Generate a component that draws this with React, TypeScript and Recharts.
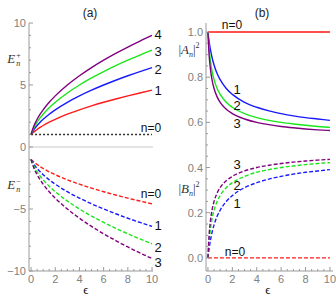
import React from "react";
import { LineChart, Line, XAxis, YAxis, ReferenceLine } from "recharts";

// epsilon sample points
const EPS = [0, 0.05, 0.1, 0.2, 0.35, 0.5, 0.75, 1, 1.5, 2, 3, 4, 5, 6, 7, 8, 9, 10];
const EPS_ENDS = [0, 10];

// panel (a) upper branch E_n^+
const E_PLUS_0 = [1, 1];
const E_PLUS_1 = [1, 1.049, 1.095, 1.183, 1.304, 1.414, 1.581, 1.732, 2, 2.236, 2.646, 3, 3.317, 3.606, 3.873, 4.123, 4.359, 4.583];
const E_PLUS_2 = [1, 1.095, 1.183, 1.342, 1.549, 1.732, 2, 2.236, 2.646, 3, 3.606, 4.123, 4.583, 5, 5.385, 5.745, 6.083, 6.403];
const E_PLUS_3 = [1, 1.14, 1.265, 1.483, 1.761, 2, 2.345, 2.646, 3.162, 3.606, 4.359, 5, 5.568, 6.083, 6.557, 7, 7.416, 7.81];
const E_PLUS_4 = [1, 1.183, 1.342, 1.612, 1.949, 2.236, 2.646, 3, 3.606, 4.123, 5, 5.745, 6.403, 7, 7.55, 8.062, 8.544, 9];

// panel (a) lower branch E_n^-
const E_MINUS_0 = [-1, -1.049, -1.095, -1.183, -1.304, -1.414, -1.581, -1.732, -2, -2.236, -2.646, -3, -3.317, -3.606, -3.873, -4.123, -4.359, -4.583];
const E_MINUS_1 = [-1, -1.095, -1.183, -1.342, -1.549, -1.732, -2, -2.236, -2.646, -3, -3.606, -4.123, -4.583, -5, -5.385, -5.745, -6.083, -6.403];
const E_MINUS_2 = [-1, -1.14, -1.265, -1.483, -1.761, -2, -2.345, -2.646, -3.162, -3.606, -4.359, -5, -5.568, -6.083, -6.557, -7, -7.416, -7.81];
const E_MINUS_3 = [-1, -1.183, -1.342, -1.612, -1.949, -2.236, -2.646, -3, -3.606, -4.123, -5, -5.745, -6.403, -7, -7.55, -8.062, -8.544, -9];

// panel (b) |A_n|^2
const A_0 = [1, 1];
const A_1 = [1, 0.977, 0.957, 0.923, 0.884, 0.854, 0.816, 0.789, 0.75, 0.724, 0.689, 0.667, 0.651, 0.639, 0.629, 0.621, 0.615, 0.609];
const A_2 = [1, 0.957, 0.923, 0.873, 0.823, 0.789, 0.75, 0.724, 0.689, 0.667, 0.639, 0.621, 0.609, 0.6, 0.593, 0.587, 0.582, 0.578];
const A_3 = [1, 0.939, 0.895, 0.837, 0.784, 0.75, 0.713, 0.689, 0.658, 0.639, 0.615, 0.6, 0.59, 0.582, 0.576, 0.571, 0.567, 0.564];

// panel (b) |B_n|^2
const B_0 = [0, 0];
const B_1 = [0, 0.023, 0.043, 0.077, 0.116, 0.146, 0.184, 0.211, 0.25, 0.276, 0.311, 0.333, 0.349, 0.361, 0.371, 0.379, 0.385, 0.391];
const B_2 = [0, 0.043, 0.077, 0.127, 0.177, 0.211, 0.25, 0.276, 0.311, 0.333, 0.361, 0.379, 0.391, 0.4, 0.407, 0.413, 0.418, 0.422];
const B_3 = [0, 0.061, 0.105, 0.163, 0.216, 0.25, 0.287, 0.311, 0.342, 0.361, 0.385, 0.4, 0.41, 0.418, 0.424, 0.429, 0.433, 0.436];

// tick labels
const X_MAJOR = [0, 2, 4, 6, 8, 10];
const YA_MAJOR = [-10, -5, 0, 5, 10];
const YB_MAJOR = [0, 0.2, 0.4, 0.6, 0.8, 1.0];

const RED = "#ff1a1a";
const BLUE = "#1a1aff";
const GREEN = "#19e619";
const PURPLE = "#800080";
const FRAME = "#9a9a9a";
const TICK_TXT = "#808080";

const rows = (xs: number[], ys: number[]) => ys.map((v, i) => ({ e: xs[i], v }));

const range = (a: number, b: number, step: number) => {
  const out: number[] = [];
  for (let v = a; v <= b + 1e-9; v += step) out.push(Math.round(v * 1000) / 1000);
  return out;
};

const X_TICKS = range(0, 10, 0.5);
const YA_TICKS = range(-10, 10, 1);
const YB_TICKS = range(0, 1, 0.05);

type Side = "left" | "right" | "top" | "bottom";

function makeTick(side: Side, majors: number[], fmt: ((v: number) => string) | null) {
  return (props: any) => {
    const { x, y, payload } = props;
    const v = payload.value;
    const major = majors.some((m) => Math.abs(m - v) < 1e-6);
    const len = major ? 4 : 2;
    let x2 = x;
    let y2 = y;
    if (side === "left") x2 = x + len;
    if (side === "right") x2 = x - len;
    if (side === "top") y2 = y + len;
    if (side === "bottom") y2 = y - len;
    return (
      <g>
        <line x1={x} y1={y} x2={x2} y2={y2} stroke={FRAME} strokeWidth={1} />
        {fmt && major && side === "left" && (
          <text x={x - 3} y={y} dy={4} textAnchor="end" fontSize={11} fill={TICK_TXT} fontFamily="Liberation Sans, Arial, sans-serif">
            {fmt(v)}
          </text>
        )}
        {fmt && major && side === "bottom" && (
          <text x={x} y={y + 12} textAnchor="middle" fontSize={11} fill={TICK_TXT} fontFamily="Liberation Sans, Arial, sans-serif">
            {fmt(v)}
          </text>
        )}
      </g>
    );
  };
}

const fmtA = (v: number) => (v < 0 ? "\u2212" + Math.abs(v) : String(v));
const fmtB = (v: number) => v.toFixed(1);

function Txt({ x, y, children, size = 12, color = "#111" }: { x: number; y: number; children: React.ReactNode; size?: number; color?: string }) {
  return (
    <div
      style={{
        position: "absolute",
        left: x,
        top: y,
        transform: "translate(-50%, -50%)",
        fontSize: size,
        lineHeight: 1,
        color,
        whiteSpace: "nowrap",
        fontFamily: "Liberation Sans, Arial, sans-serif",
      }}
    >
      {children}
    </div>
  );
}

const serif = { fontFamily: "Liberation Serif, Times New Roman, serif" };

function Script({ sup, sub }: { sup: string; sub?: string }) {
  return (
    <span style={{ display: "inline-flex", flexDirection: "column", fontSize: 8, lineHeight: "8px", verticalAlign: "middle", marginLeft: 1 }}>
      <span style={{ ...serif }}>{sup}</span>
      <span style={{ ...serif, fontStyle: "italic" }}>{sub ?? "\u00a0"}</span>
    </span>
  );
}

function ELabel({ sign }: { sign: string }) {
  return (
    <span style={{ ...serif, color: "#333", fontSize: 13 }}>
      <span style={{ fontStyle: "italic" }}>E</span>
      <Script sup={sign} sub="n" />
    </span>
  );
}

function AbsLabel({ letter }: { letter: string }) {
  return (
    <span style={{ ...serif, color: "#333", fontSize: 13 }}>
      |<span style={{ fontStyle: "italic" }}>{letter}</span>
      <sub style={{ fontSize: 8, fontStyle: "italic" }}>n</sub>|<sup style={{ fontSize: 8 }}>2</sup>
    </span>
  );
}

function FrameAxes({ xDomain, yDomain, yTicks, yMajors, fmt, leftWidth }: { xDomain: number[]; yDomain: number[]; yTicks: number[]; yMajors: number[]; fmt: (v: number) => string; leftWidth: number }) {
  return [
    <XAxis key="xb" xAxisId="b" type="number" dataKey="e" domain={xDomain} allowDataOverflow ticks={X_TICKS} interval={0} height={26} tickSize={0} tickMargin={0} stroke={FRAME} tick={makeTick("bottom", X_MAJOR, String)} tickLine={false} />,
    <XAxis key="xt" xAxisId="t" orientation="top" type="number" dataKey="e" domain={xDomain} allowDataOverflow ticks={X_TICKS} interval={0} height={0} tickSize={0} tickMargin={0} stroke={FRAME} tick={makeTick("top", X_MAJOR, null)} tickLine={false} />,
    <YAxis key="yl" yAxisId="l" type="number" domain={yDomain} allowDataOverflow ticks={yTicks} interval={0} width={leftWidth} tickSize={0} tickMargin={0} stroke={FRAME} tick={makeTick("left", yMajors, fmt)} tickLine={false} />,
    <YAxis key="yr" yAxisId="r" orientation="right" type="number" domain={yDomain} allowDataOverflow ticks={yTicks} interval={0} width={0} tickSize={0} tickMargin={0} stroke={FRAME} tick={makeTick("right", yMajors, null)} tickLine={false} />,
  ];
}

function series(xs: number[], ys: number[], color: string, dash?: string, width = 1.4) {
  return (
    <Line
      key={color + (dash ?? "") + ys[ys.length - 1]}
      xAxisId="b"
      yAxisId="l"
      data={rows(xs, ys)}
      dataKey="v"
      type="monotone"
      stroke={color}
      strokeWidth={width}
      strokeDasharray={dash}
      dot={false}
      activeDot={false}
      isAnimationActive={false}
    />
  );
}

export default function App() {
  const dash = "4 2";
  return (
    <div style={{ position: "absolute", left: 0, top: 0, width: 336, height: 297, background: "#fff", overflow: "hidden" }}>
      <div style={{ position: "absolute", left: 0, top: 0 }}>
        <LineChart width={170} height={297} margin={{ top: 23, right: 17, bottom: 0, left: 0 }}>
          {FrameAxes({ xDomain: [-0.17, 10.08], yDomain: [-10, 10], yTicks: YA_TICKS, yMajors: YA_MAJOR, fmt: fmtA, leftWidth: 29 })}
          <ReferenceLine xAxisId="b" yAxisId="l" y={0} stroke="#c8c8c8" strokeWidth={1} />
          {series(EPS_ENDS, E_PLUS_0, "#333", "2 2", 1.5)}
          {series(EPS, E_PLUS_1, RED)}
          {series(EPS, E_PLUS_2, BLUE)}
          {series(EPS, E_PLUS_3, GREEN)}
          {series(EPS, E_PLUS_4, PURPLE)}
          {series(EPS, E_MINUS_0, RED, dash)}
          {series(EPS, E_MINUS_1, BLUE, dash)}
          {series(EPS, E_MINUS_2, GREEN, dash)}
          {series(EPS, E_MINUS_3, PURPLE, dash)}
        </LineChart>
      </div>
      <div style={{ position: "absolute", left: 170, top: 0 }}>
        <LineChart width={166} height={297} margin={{ top: 23, right: 3, bottom: 0, left: 0 }}>
          {FrameAxes({ xDomain: [-0.16, 10.25], yDomain: [-0.058, 1.04], yTicks: YB_TICKS, yMajors: YB_MAJOR, fmt: fmtB, leftWidth: 36 })}
          {series(EPS_ENDS, A_0, "#ff5050", undefined, 2)}
          {series(EPS, A_1, BLUE)}
          {series(EPS, A_2, GREEN)}
          {series(EPS, A_3, PURPLE)}
          {series(EPS_ENDS, B_0, RED, dash)}
          {series(EPS, B_1, BLUE, dash)}
          {series(EPS, B_2, GREEN, dash)}
          {series(EPS, B_3, PURPLE, dash)}
        </LineChart>
      </div>

      <Txt x={90} y={13} size={12} color="#222">(a)</Txt>
      <Txt x={262} y={13} size={12} color="#222">(b)</Txt>

      <Txt x={14} y={60}><ELabel sign="+" /></Txt>
      <Txt x={14} y={186}><ELabel sign={"\u2212"} /></Txt>
      <Txt x={189} y={51}><AbsLabel letter="A" /></Txt>
      <Txt x={189} y={190}><AbsLabel letter="B" /></Txt>

      <Txt x={86} y={289} size={13}><span style={serif}>{"\u03f5"}</span></Txt>
      <Txt x={268} y={289} size={13}><span style={serif}>{"\u03f5"}</span></Txt>

      <Txt x={158} y={34} size={13}>4</Txt>
      <Txt x={158} y={51} size={13}>3</Txt>
      <Txt x={158} y={69} size={13}>2</Txt>
      <Txt x={158} y={90} size={13}>1</Txt>
      <Txt x={151} y={128} size={12}>n=0</Txt>

      <Txt x={151} y={194} size={12}>n=0</Txt>
      <Txt x={158} y={225} size={13}>1</Txt>
      <Txt x={158} y={247} size={13}>2</Txt>
      <Txt x={158} y={262} size={13}>3</Txt>

      <Txt x={232} y={25} size={12}>n=0</Txt>
      <Txt x={237} y={89} size={13}>1</Txt>
      <Txt x={237} y={105} size={13}>2</Txt>
      <Txt x={237} y={123} size={13}>3</Txt>

      <Txt x={237} y={164} size={13}>3</Txt>
      <Txt x={237} y={185} size={13}>2</Txt>
      <Txt x={237} y={203} size={13}>1</Txt>
      <Txt x={235} y={252} size={12}>n=0</Txt>
    </div>
  );
}
